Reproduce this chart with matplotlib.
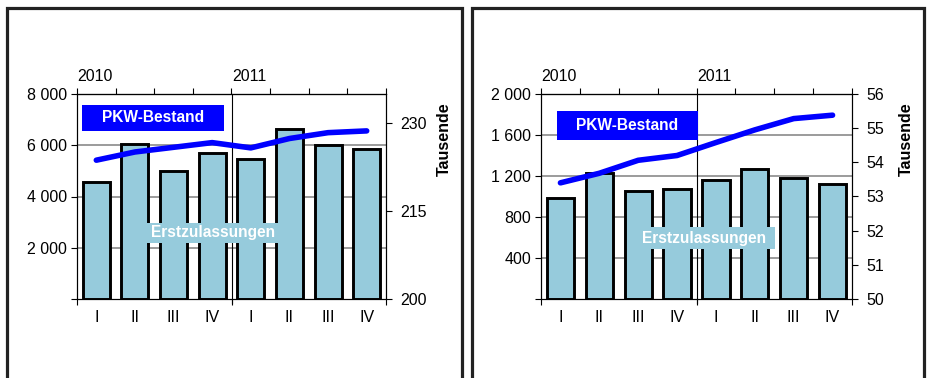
import matplotlib.pyplot as plt
from matplotlib.patches import Rectangle
from matplotlib.lines import Line2D
import matplotlib.transforms as mtransforms

plt.rcParams["font.family"] = ["Liberation Sans", "DejaVu Sans"]

QUARTERS = ["I", "II", "III", "IV", "I", "II", "III", "IV"]
YEARS = ["2010", "2011"]

# left panel
reg_left = [4550, 6050, 5000, 5700, 5450, 6620, 6000, 5850]
stock_left = [223.7, 225.1, 225.9, 226.7, 225.8, 227.4, 228.4, 228.7]
left_ticks = [2000, 4000, 6000, 8000]
left_ticklabels = ["2 000", "4 000", "6 000", "8 000"]
left_rticks = [200, 215, 230]

# right panel
reg_right = [990, 1230, 1055, 1075, 1165, 1270, 1180, 1125]
stock_right = [53.4, 53.68, 54.06, 54.2, 54.58, 54.95, 55.28, 55.38]
right_ticks = [400, 800, 1200, 1600, 2000]
right_ticklabels = ["400", "800", "1 200", "1 600", "2 000"]
right_rticks = [50, 51, 52, 53, 54, 55, 56]

BAR_COLOR = "#96CBDC"
LINE_COLOR = "#0000FF"
FS = 11.5
W, H = 927, 378

fig = plt.figure(figsize=(W / 100, H / 100), dpi=100)


def px(x0, y0, x1, y1):
    return [x0 / W, 1 - y1 / H, (x1 - x0) / W, (y1 - y0) / H]


def panel(rect, reg, stock, lticks, llabels, lmax, rticks, rlim,
          pkw_box, erst_box, unit_x):
    ax = fig.add_axes(rect)
    n = len(reg)
    xs = range(n)
    ax.bar(xs, reg, width=0.7, color=BAR_COLOR, edgecolor="black",
           linewidth=2.1, zorder=3)
    ax.set_xlim(-0.5, n - 0.5)
    ax.set_ylim(0, lmax)
    ax.set_yticks([0] + lticks)
    ax.set_yticklabels([""] + llabels)
    for t in lticks:
        if t < lmax:
            ax.axhline(t, color="#808080", lw=1.1, zorder=1)

    ax.set_xticks(list(xs))
    ax.set_xticklabels(QUARTERS)
    ax.tick_params(axis="x", which="major", length=0, pad=8, labelsize=FS)
    ax.set_xticks([-0.5, 3.5, n - 0.5], minor=True)
    ax.tick_params(axis="x", which="minor", length=4, width=0.8)
    ax.tick_params(axis="y", length=4, width=0.8, labelsize=FS, pad=3)
    for s in ax.spines.values():
        s.set_linewidth(0.8)

    top = ax.secondary_xaxis("top")
    top.set_xticks([i - 0.5 for i in range(n + 1)])
    top.set_xticklabels([])
    top.tick_params(length=4, width=0.8)
    top.spines["top"].set_linewidth(0.8)

    # year divider
    trans = mtransforms.blended_transform_factory(ax.transData, ax.transAxes)
    ax.add_line(Line2D([3.5, 3.5], [-0.02, 1.0], transform=trans,
                       color="black", lw=0.8, clip_on=False, zorder=4))
    ax.text(-0.5, 1.085, YEARS[0], transform=trans, ha="left", va="center",
            fontsize=FS)
    ax.text(3.52, 1.085, YEARS[1], transform=trans, ha="left", va="center",
            fontsize=FS)

    ax2 = ax.twinx()
    ax2.plot(list(xs), stock, color=LINE_COLOR, lw=4,
             solid_capstyle="round", zorder=5)
    ax2.set_ylim(*rlim)
    ax2.set_yticks(rticks)
    ax2.tick_params(axis="y", length=4, width=0.8, labelsize=FS, pad=6)
    for s in ax2.spines.values():
        s.set_linewidth(0.8)
    ax2.text(unit_x, 0.78, "Tausende", transform=ax2.transAxes,
             rotation=90, ha="center", va="center", fontsize=11.5,
             fontweight="bold")

    # series name boxes
    for (x0, y0, x1, y1), label, color in [
        (pkw_box, "PKW-Bestand", LINE_COLOR),
        (erst_box, "Erstzulassungen", BAR_COLOR),
    ]:
        ax2.add_patch(Rectangle((x0, y0), x1 - x0, y1 - y0,
                                transform=ax2.transAxes, facecolor=color,
                                edgecolor="none", zorder=2))
        ax2.text((x0 + x1) / 2, (y0 + y1) / 2, label,
                 transform=ax2.transAxes, ha="center", va="center",
                 color="white", fontsize=11.2, fontweight="bold", zorder=3)
    return ax


panel(px(77, 94, 386, 299), reg_left, stock_left, left_ticks,
      left_ticklabels, 8000, left_rticks, (200, 235),
      (0.016, 0.820, 0.476, 0.946), (0.227, 0.273, 0.654, 0.371), 1.19)
panel(px(541, 94, 852, 299), reg_right, stock_right, right_ticks,
      right_ticklabels, 2000, right_rticks, (50, 56),
      (0.051, 0.776, 0.505, 0.917), (0.299, 0.244, 0.752, 0.351), 1.175)

# panel frames
for xl, xr in [(7.5, 462), (471.5, 924)]:
    fig.add_artist(Line2D([xl / W, xl / W, xr / W, xr / W],
                          [0, 1 - 7.5 / H, 1 - 7.5 / H, 0],
                          transform=fig.transFigure, color="#222222",
                          lw=2.3, solid_joinstyle="miter"))

fig.savefig("out.png", dpi=100)
